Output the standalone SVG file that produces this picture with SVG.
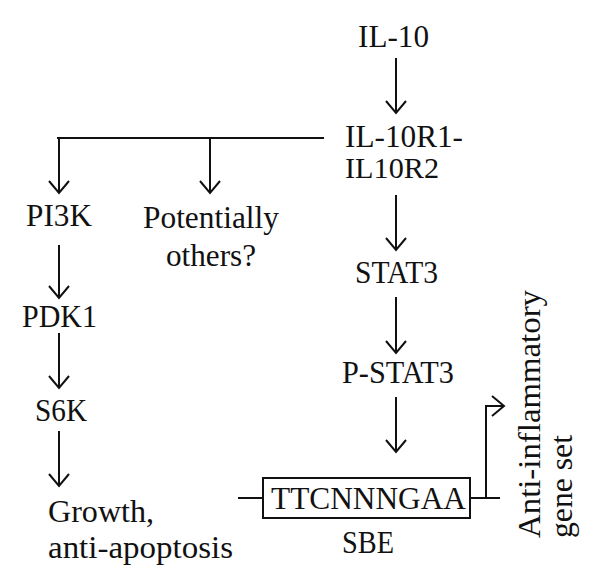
<svg xmlns="http://www.w3.org/2000/svg" width="600" height="586" viewBox="0 0 600 586">
<defs>
<style>
.t{font-family:'Liberation Serif','Times New Roman',serif;font-size:32px;fill:#111}
.s{font-size:30px}
.c{text-anchor:middle}
.ln{stroke:#111;stroke-width:2;fill:none}
</style>
<marker id="ah" viewBox="-14 -12 16 24" markerWidth="16" markerHeight="24" refX="0" refY="0" orient="auto" markerUnits="userSpaceOnUse">
<path d="M-12,-10 L0,0 L-12,10" fill="none" stroke="#111" stroke-width="2"/>
</marker>
</defs>
<rect width="600" height="586" fill="#fff"/>
<g id="connectors">
<line class="ln" x1="396" y1="58" x2="396" y2="113" marker-end="url(#ah)"/>
<line class="ln" x1="396" y1="195" x2="396" y2="250" marker-end="url(#ah)"/>
<line class="ln" x1="396" y1="297" x2="396" y2="353" marker-end="url(#ah)"/>
<line class="ln" x1="396" y1="397" x2="396" y2="452" marker-end="url(#ah)"/>
<line class="ln" x1="324" y1="138" x2="57" y2="138"/>
<line class="ln" x1="59" y1="138" x2="59" y2="193" marker-end="url(#ah)"/>
<line class="ln" x1="210" y1="138" x2="210" y2="193" marker-end="url(#ah)"/>
<line class="ln" x1="59" y1="245" x2="59" y2="298" marker-end="url(#ah)"/>
<line class="ln" x1="59" y1="333" x2="59" y2="388" marker-end="url(#ah)"/>
<line class="ln" x1="59" y1="431" x2="59" y2="486" marker-end="url(#ah)"/>
<line class="ln" x1="238" y1="498" x2="263" y2="498"/>
<line class="ln" x1="470" y1="498" x2="500" y2="498"/>
<path class="ln" d="M486,498 V406 H504" marker-end="url(#ah)"/>
</g>
<g font-family="Liberation Serif, serif" font-size="32" fill="#111">
<g id="il10"><text class="t" x="358" y="47" textLength="71" lengthAdjust="spacingAndGlyphs">IL-10</text></g>
<g id="il10r"><text class="t" x="345" y="147" textLength="118" lengthAdjust="spacingAndGlyphs">IL-10R1-</text><text class="t s" x="345" y="178" textLength="94" lengthAdjust="spacingAndGlyphs">IL10R2</text></g>
<g id="pi3k"><text class="t" x="26" y="226" textLength="66" lengthAdjust="spacingAndGlyphs">PI3K</text></g>
<g id="others"><text class="t" x="143" y="228" textLength="136" lengthAdjust="spacingAndGlyphs">Potentially</text><text class="t" x="166" y="266" textLength="90" lengthAdjust="spacingAndGlyphs">others?</text></g>
<g id="stat3"><text class="t" x="355" y="283" textLength="83" lengthAdjust="spacingAndGlyphs">STAT3</text></g>
<g id="pdk1"><text class="t" x="22" y="327" textLength="75" lengthAdjust="spacingAndGlyphs">PDK1</text></g>
<g id="pstat3"><text class="t" x="342" y="383" textLength="112" lengthAdjust="spacingAndGlyphs">P-STAT3</text></g>
<g id="s6k"><text class="t" x="35" y="421" textLength="52" lengthAdjust="spacingAndGlyphs">S6K</text></g>
<g id="growth"><text class="t" x="48" y="522" textLength="106" lengthAdjust="spacingAndGlyphs">Growth,</text><text class="t" x="48" y="558" textLength="185" lengthAdjust="spacingAndGlyphs">anti-apoptosis</text></g>
<g id="sbe">
<rect class="ln" x="263" y="478" width="207" height="40"/>
<text class="t" x="271" y="509" textLength="195" lengthAdjust="spacingAndGlyphs">TTCNNNGAA</text>
<text class="t" x="342" y="553" textLength="52" lengthAdjust="spacingAndGlyphs">SBE</text>
</g>
<g id="genes">
<text class="t" transform="translate(540,538) rotate(-90)" textLength="248" lengthAdjust="spacingAndGlyphs">Anti-inflammatory</text>
<text class="t" transform="translate(572,538) rotate(-90)" textLength="103" lengthAdjust="spacingAndGlyphs">gene set</text>
</g>
</g>
</svg>
